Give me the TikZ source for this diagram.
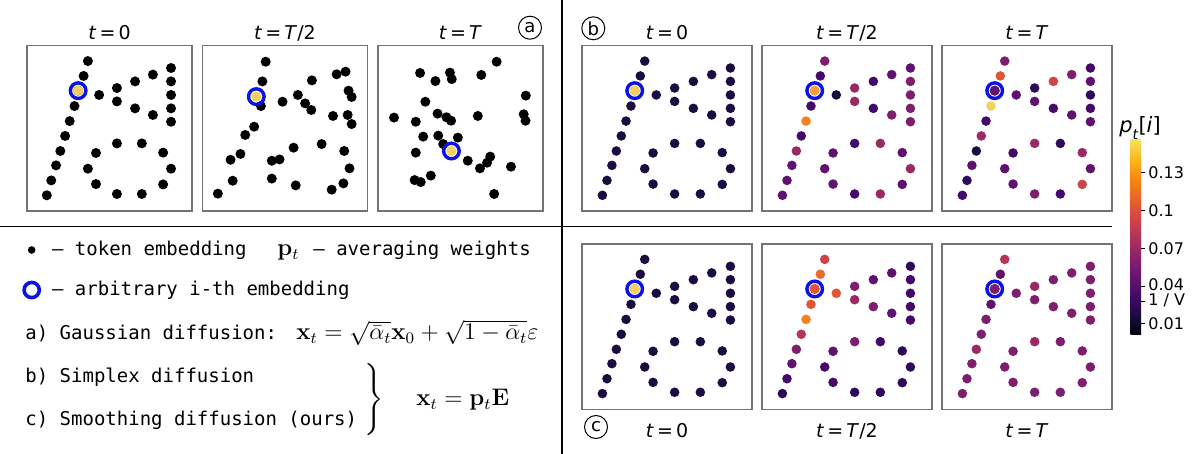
\documentclass[tikz,border=0pt]{standalone}
\usepackage[no-math]{fontspec}
\newfontfamily\dvs{DejaVu Sans}
\newfontfamily\dvm{DejaVu Sans Mono}
\usepackage{amsmath}
\definecolor{m0}{HTML}{1B0C41}
\definecolor{m1}{HTML}{2F0A5B}
\definecolor{m2}{HTML}{450A69}
\definecolor{m3}{HTML}{5F136E}
\definecolor{m4}{HTML}{7D1F6C}
\definecolor{m5}{HTML}{9B2964}
\definecolor{m6}{HTML}{B73557}
\definecolor{r1}{HTML}{CF4446}
\definecolor{r2}{HTML}{E05536}
\definecolor{o1}{HTML}{EC6C2A}
\definecolor{o2}{HTML}{F3821E}
\definecolor{o3}{HTML}{F5A03A}
\definecolor{yl}{HTML}{F3D060}
\definecolor{hlblue}{HTML}{0A12E6}
\definecolor{cb0}{HTML}{02020C}
\definecolor{cb1}{HTML}{1B0C41}
\definecolor{cb2}{HTML}{420A68}
\definecolor{cb3}{HTML}{65156E}
\definecolor{cb4}{HTML}{8A226A}
\definecolor{cb5}{HTML}{B1325A}
\definecolor{cb6}{HTML}{D24644}
\definecolor{cb7}{HTML}{EA632A}
\definecolor{cb8}{HTML}{F8870E}
\definecolor{cb9}{HTML}{FBB61A}
\definecolor{cb10}{HTML}{F3E35A}
\pgfdeclareverticalshading{infbar}{100bp}{color(0bp)=(cb0); color(25bp)=(cb0); color(30bp)=(cb1); color(35bp)=(cb2); color(40bp)=(cb3); color(45bp)=(cb4); color(50bp)=(cb5); color(55bp)=(cb6); color(60bp)=(cb7); color(65bp)=(cb8); color(70bp)=(cb9); color(75bp)=(cb10); color(100bp)=(cb10)}
\newcommand\LayoutCoords{%
 \foreach \xx/\yy [count=\ii] in {0.369/0.093,0.343/0.183,0.310/0.272,0.437/0.298,0.545/0.256,0.655/0.216,0.763/0.175,0.873/0.135,0.873/0.216,0.873/0.298,0.873/0.379,0.873/0.460,0.545/0.337,0.655/0.379,0.763/0.419,0.288/0.365,0.259/0.456,0.231/0.546,0.202/0.637,0.176/0.724,0.147/0.815,0.120/0.905,0.545/0.591,0.696/0.591,0.825/0.647,0.873/0.744,0.825/0.839,0.696/0.897,0.545/0.897,0.418/0.837,0.369/0.744,0.418/0.649}
 {\coordinate (p\ii) at (\xx,\yy);}}
\newcommand\ColorDots[1]{%
 \foreach \cc [count=\ii] in {#1} {\fill[fill=\cc] (p\ii) circle[radius=2.4pt];}}
\newcommand\UniformDots[2]{%
 \foreach \ii in {1,...,32} {\fill[fill=#2] (p\ii) circle[radius=#1];}}
\newcommand\RingAt[2]{%
 \draw[hlblue, line width=1.7pt] #1 circle[radius=3.9pt];
 \fill[fill=#2] #1 circle[radius=2.55pt];}
\begin{document}
\begin{tikzpicture}[x=0.5pt,y=-0.5pt,
  boxframe/.style={draw=black!55, line width=0.6pt},
  tlab/.style={font=\dvs\fontsize{9.5}{11}\selectfont, inner sep=0pt},
  circlab/.style={circle, draw, line width=0.5pt, minimum size=11.5pt, inner sep=0pt, font=\dvs\fontsize{9}{10}\selectfont},
  ticklab/.style={font=\dvs\fontsize{8}{9}\selectfont, anchor=west, inner sep=0pt},
  leg/.style={font=\dvm\fontsize{9.5}{11}\selectfont, anchor=base west, inner sep=0pt},
  mth/.style={font=\fontsize{12}{14}\selectfont, anchor=base west, inner sep=0pt},
  divider/.style={line width=0.8pt, black}]
\useasboundingbox (0,0) rectangle (1200,454);
% dividers
\draw[divider] (562,0) -- (562,454);
\draw[divider] (0,226.7) -- (1112,226.7);
% ---------- panel a ----------
\begin{scope}[xshift=13.5pt, yshift=-22.85pt, x=82.5pt, y=-82.65pt]
 \draw[boxframe] (0,0) rectangle (1,1);
 \LayoutCoords
 \UniformDots{2.5pt}{black}
 \RingAt{(p3)}{yl}
\end{scope}
\begin{scope}[xshift=101.25pt, yshift=-22.85pt, x=82.5pt, y=-82.65pt]
 \draw[boxframe] (0,0) rectangle (1,1);
 \foreach \xx/\yy in {0.383/0.097,0.363/0.216,0.354/0.365,0.485/0.339,0.578/0.298,0.622/0.349,0.659/0.389,0.663/0.210,0.813/0.173,0.867/0.157,0.885/0.272,0.904/0.310,0.791/0.425,0.880/0.419,0.904/0.474,0.313/0.490,0.259/0.540,0.230/0.655,0.170/0.690,0.183/0.817,0.093/0.895,0.420/0.696,0.467/0.688,0.552/0.617,0.722/0.595,0.859/0.637,0.891/0.742,0.854/0.833,0.783/0.871,0.565/0.845,0.420/0.804}
  {\fill (\xx,\yy) circle[radius=2.5pt];}
 \RingAt{(0.326,0.308)}{yl}
\end{scope}
\begin{scope}[xshift=189pt, yshift=-22.85pt, x=82.5pt, y=-82.65pt]
 \draw[boxframe] (0,0) rectangle (1,1);
 \foreach \xx/\yy in {0.719/0.097,0.255/0.165,0.348/0.214,0.436/0.163,0.447/0.202,0.626/0.177,0.287/0.339,0.097/0.435,0.229/0.460,0.361/0.411,0.415/0.433,0.443/0.454,0.605/0.425,0.896/0.302,0.883/0.415,0.894/0.454,0.274/0.550,0.365/0.544,0.395/0.595,0.484/0.556,0.229/0.647,0.544/0.696,0.618/0.742,0.661/0.708,0.680/0.671,0.806/0.732,0.320/0.786,0.222/0.813,0.259/0.825,0.704/0.897}
  {\fill (\xx,\yy) circle[radius=2.5pt];}
 \RingAt{(0.445,0.637)}{yl}
\end{scope}
\node[tlab] (ta1) at (109.5,33) {\textit{t}\,=\,0};
\node[tlab] (ta2) at (285,33) {\textit{t}\,=\,\textit{T}/2};
\node[tlab] (ta3) at (460.5,33) {\textit{t}\,=\,\textit{T}};
\node[circlab] (ca) at (530,27.7) {a};
% ---------- panel b ----------
\begin{scope}[xshift=291pt, yshift=-22.85pt, x=85pt, y=-82.65pt]
 \draw[boxframe] (0,0) rectangle (1,1);
 \LayoutCoords
 \UniformDots{2.4pt}{m0}
 \RingAt{(p3)}{yl}
\end{scope}
\begin{scope}[xshift=381pt, yshift=-22.85pt, x=85pt, y=-82.65pt]
 \draw[boxframe] (0,0) rectangle (1,1);
 \LayoutCoords
 \ColorDots{m4,m2,o3,m0,m5,m2,m3,m3,m4,m4,m4,m4,m5,m2,m4,m2,o2,m2,m5,m3,m3,m3,m2,m5,m3,m5,m3,m5,m2,m3,m3,m3}
 \RingAt{(p3)}{o3}
\end{scope}
\begin{scope}[xshift=471pt, yshift=-22.85pt, x=85pt, y=-82.65pt]
 \draw[boxframe] (0,0) rectangle (1,1);
 \LayoutCoords
 \ColorDots{m4,r2,m3,m3,m1,r1,m4,m2,m3,m1,m2,m3,m3,m2,m3,yl,m2,m5,m0,m3,m1,m2,m5,m1,m5,m3,r1,m2,m4,m3,m3,m2}
 \RingAt{(p3)}{m3}
\end{scope}
\node[circlab] (cb) at (593.3,28.3) {b};
\node[tlab] (tb1) at (667,33) {\textit{t}\,=\,0};
\node[tlab] (tb2) at (847,33) {\textit{t}\,=\,\textit{T}/2};
\node[tlab] (tb3) at (1027,33) {\textit{t}\,=\,\textit{T}};
% ---------- panel c ----------
\begin{scope}[xshift=291pt, yshift=-122pt, x=85pt, y=-82.65pt]
 \draw[boxframe] (0,0) rectangle (1,1);
 \LayoutCoords
 \UniformDots{2.4pt}{m0}
 \RingAt{(p3)}{yl}
\end{scope}
\begin{scope}[xshift=381pt, yshift=-122pt, x=85pt, y=-82.65pt]
 \draw[boxframe] (0,0) rectangle (1,1);
 \LayoutCoords
 \ColorDots{r1,o1,r2,r2,m4,m3,m3,m1,m2,m2,m2,m2,m5,m4,m3,r2,o2,m6,m4,m3,m2,m1,m4,m2,m1,m1,m1,m1,m1,m2,m2,m3}
 \RingAt{(p3)}{r2}
\end{scope}
\begin{scope}[xshift=471pt, yshift=-122pt, x=85pt, y=-82.65pt]
 \draw[boxframe] (0,0) rectangle (1,1);
 \LayoutCoords
 \ColorDots{m6,m3,m4,m4,m5,m4,m4,m4,m4,m4,m4,m4,m4,m4,m4,m3,m4,m4,m5,m4,m4,m4,m5,m4,m4,m4,m4,m4,m4,m4,m4,m4}
 \RingAt{(p3)}{m4}
\end{scope}
\node[circlab] (cc) at (596,427) {c};
\node[tlab] (tc1) at (667,431) {\textit{t}\,=\,0};
\node[tlab] (tc2) at (847,431) {\textit{t}\,=\,\textit{T}/2};
\node[tlab] (tc3) at (1027,431) {\textit{t}\,=\,\textit{T}};
% ---------- colour bar ----------
\shade[shading=infbar] (1130.7,140) rectangle (1141,335);
\foreach \yy in {172.7,210.7,248.3,286.7,301.7,324} {\draw[line width=0.5pt] (1141,\yy) -- (1145,\yy);}
\node[ticklab] (k1) at (1148,172.7) {0.13};
\node[ticklab] (k2) at (1148,210.7) {0.1};
\node[ticklab] (k3) at (1148,248.3) {0.07};
\node[ticklab] (k4) at (1148,285) {0.04};
\node[ticklab] (k5) at (1148,300.5) {1 / V};
\node[ticklab] (k6) at (1148,324) {0.01};
\node[font=\dvs\fontsize{10.5}{12}\selectfont, inner sep=0pt] (cbl) at (1140,128) {\textit{p}\raisebox{-0.3em}{\fontsize{7}{8}\selectfont\textit{t}}[\textit{i}]};
% ---------- legend ----------
\node[circle, fill=black, inner sep=0pt, minimum size=3.8pt] (bul) at (31.7,250) {};
\node[leg] (l1) at (51.7,256) {– token embedding};
\node[mth] (pt) at (277,256) {$\mathbf{p}_t$};
\node[leg] (l1b) at (313,256) {– averaging weights};
\node[circle, draw=hlblue, line width=1.8pt, minimum size=7.6pt, inner sep=0pt] (ring) at (31.7,290) {};
\node[leg] (l2) at (51.7,296) {– arbitrary i-th embedding};
\node[leg] (l3) at (25,340) {a) Gaussian diffusion:};
\node[mth] (f3) at (296,340) {$\mathbf{x}_t=\sqrt{\bar{\alpha}_t}\mathbf{x}_0+\sqrt{1-\bar{\alpha}_t}\varepsilon$};
\node[leg] (l4) at (25,383) {b) Simplex diffusion};
\node[leg] (l5) at (25,425) {c) Smoothing diffusion (ours)};
\node[mth, anchor=west] (br) at (362,400) {$\left.\vrule height 15pt depth 15pt width 0pt\right\}$};
\node[mth, anchor=west] (f45) at (416,400) {$\mathbf{x}_t=\mathbf{p}_t\mathbf{E}$};
\end{tikzpicture}
\end{document}
